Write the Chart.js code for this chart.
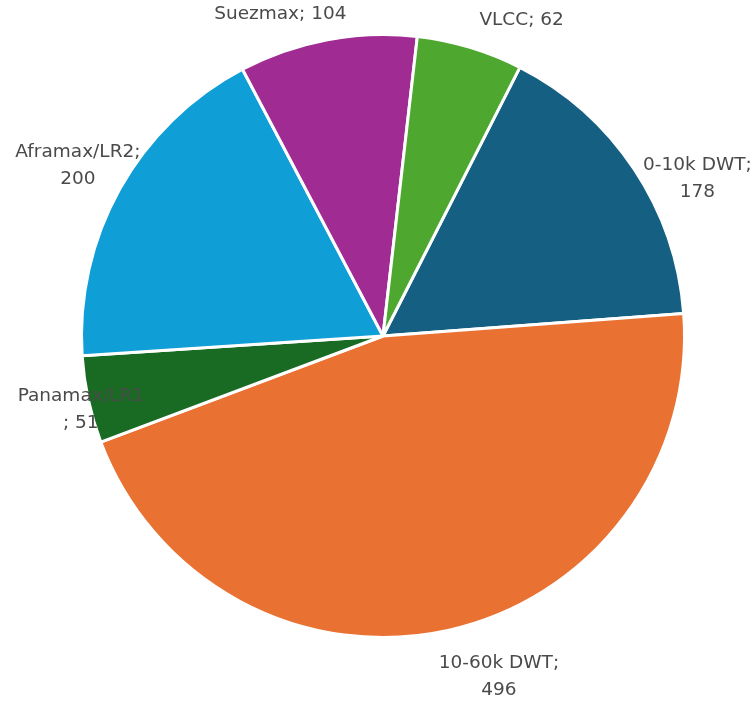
<!DOCTYPE html>
<html>
<head>
<meta charset="utf-8">
<script src="https://cdn.jsdelivr.net/npm/chart.js@4"></script>
<style>
html,body{margin:0;padding:0;background:#fff;}
#wrap{width:750px;height:706px;position:relative;}
</style>
</head>
<body>
<div id="wrap"><canvas id="c" width="750" height="706"></canvas></div>
<script>
const categories = ['0-10k DWT', '10-60k DWT', 'Panamax/LR1', 'Aframax/LR2', 'Suezmax', 'VLCC'];
const values = [178, 496, 51, 200, 104, 62];
const colors = ['#156082', '#E97132', '#196B24', '#0F9ED5', '#A02B93', '#4EA72E'];
// label line breaks as shown in the reference
const labelLines = [
  ['0-10k DWT;', '178'],
  ['10-60k DWT;', '496'],
  ['Panamax/LR1', '; 51'],
  ['Aframax/LR2;', '200'],
  ['Suezmax; 104'],
  ['VLCC; 62']
];
// small per-label nudges (pixels) to mimic the reference's label placement
const labelNudge = [[14, 27], [37, 15], [59, 3], [17, -7], [-34, -7], [38, -9]];

const FONT = '18.5px "DejaVu Sans"';
const LINE_H = 27;

const labelPlugin = {
  id: 'outLabels',
  afterDatasetsDraw(chart) {
    const ctx = chart.ctx;
    const meta = chart.getDatasetMeta(0);
    ctx.save();
    ctx.font = FONT;
    ctx.fillStyle = '#4a4a4a';
    ctx.textAlign = 'center';
    ctx.textBaseline = 'middle';
    meta.data.forEach((arc, i) => {
      const p = arc.getProps(['x', 'y', 'startAngle', 'endAngle', 'outerRadius'], true);
      const mid = (p.startAngle + p.endAngle) / 2;
      const dx = Math.cos(mid), dy = Math.sin(mid);
      const r = p.outerRadius + 5;
      const lines = labelLines[i];
      const w = Math.max(...lines.map(l => ctx.measureText(l).width));
      const h = lines.length * LINE_H;
      const cx = p.x + r * dx + dx * w / 2 + labelNudge[i][0];
      const cy = p.y + r * dy + dy * h / 2 + labelNudge[i][1];
      lines.forEach((l, k) => {
        ctx.fillText(l, cx, cy - h / 2 + LINE_H * (k + 0.5));
      });
    });
    ctx.restore();
  }
};

new Chart(document.getElementById('c'), {
  type: 'pie',
  data: {
    labels: categories,
    datasets: [{
      data: values,
      backgroundColor: colors,
      borderColor: '#ffffff',
      borderWidth: 3
    }]
  },
  options: {
    responsive: false,
    animation: false,
    rotation: 27,
    layout: { padding: { left: 80, right: 64, top: 33, bottom: 67 } },
    plugins: {
      legend: { display: false },
      tooltip: { enabled: false }
    }
  },
  plugins: [labelPlugin]
});
</script>
</body>
</html>
